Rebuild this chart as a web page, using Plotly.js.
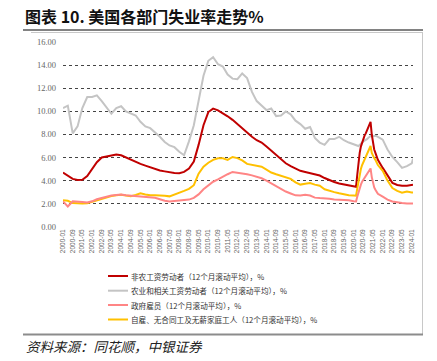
<!DOCTYPE html>
<html>
<head>
<meta charset="utf-8">
<script src="https://cdn.plot.ly/plotly-3.0.1.min.js"></script>
<style>html,body{margin:0;padding:0;background:#fff;}#chart{width:437px;height:361px;}</style>
</head>
<body>
<div id="chart"></div>
<script>
// ---- data ----
const dates = [
"2000-01","2000-05","2000-09","2001-01","2001-05","2001-09","2002-01","2002-05","2002-09","2003-01",
"2003-05","2003-09","2004-01","2004-05","2004-09","2005-01","2005-05","2005-09","2006-01","2006-05",
"2006-09","2007-01","2007-05","2007-09","2008-01","2008-05","2008-09","2009-01","2009-05","2009-09",
"2010-01","2010-05","2010-09","2011-01","2011-05","2011-09","2012-01","2012-05","2012-09","2013-01",
"2013-05","2013-09","2014-01","2014-05","2014-09","2015-01","2015-05","2015-09","2016-01","2016-05",
"2016-09","2017-01","2017-05","2017-09","2018-01","2018-05","2018-09","2019-01","2019-05","2019-09",
"2020-01",
"2020-02","2020-03","2020-04","2020-05","2020-06","2020-07","2020-08","2020-09","2020-10","2020-11",
"2020-12","2021-01","2021-02","2021-03","2021-04","2021-05","2021-06","2021-07","2021-08","2021-09",
"2022-01","2022-05","2022-09","2023-01","2023-05","2023-09","2024-01","2024-02"
];

const nonfarm = [
4.70,4.45,4.15,4.05,4.07,4.4,5.0,5.6,6.0,6.1,
6.15,6.27,6.2,6.0,5.8,5.6,5.45,5.3,5.15,5.0,
4.88,4.8,4.72,4.65,4.64,4.75,5.05,5.65,7.1,8.8,
9.95,10.25,10.1,9.85,9.58,9.27,8.9,8.5,8.15,7.8,
7.5,7.3,6.95,6.6,6.2,5.85,5.5,5.25,5.02,4.85,
4.75,4.63,4.55,4.44,4.22,4.03,3.88,3.75,3.65,3.56,
3.5,
3.48,3.46,4.5,5.6,6.4,6.95,7.3,7.6,7.9,8.1,
8.35,8.6,8.85,9.1,8.0,7.2,6.7,6.4,6.1,5.8,
5.1,4.4,3.8,3.62,3.55,3.55,3.6,3.63
];

const agri = [
10.3,10.5,8.1,8.7,10.3,11.25,11.25,11.4,10.9,10.3,
9.8,10.3,10.45,10.0,9.85,9.65,9.1,8.7,8.55,8.2,
7.8,7.35,7.05,6.9,6.5,6.2,7.4,8.8,11.0,13.1,
14.4,14.72,14.1,13.9,13.2,12.85,12.8,13.3,12.9,11.7,
10.9,10.55,10.12,10.27,9.6,9.65,10.0,9.75,9.2,8.9,
8.5,8.65,7.7,7.3,7.1,7.6,7.6,7.8,7.5,7.3,
7.15,
7.1,7.05,7.0,7.0,7.1,7.24,7.3,7.4,7.45,7.52,
7.6,7.7,7.8,7.87,7.85,7.87,7.9,7.88,7.85,7.8,
7.55,6.7,6.05,5.6,5.1,5.25,5.5,5.9
];

const government = [
2.2,1.75,2.2,2.2,2.15,2.1,2.2,2.38,2.5,2.62,
2.7,2.75,2.8,2.72,2.68,2.65,2.62,2.57,2.52,2.5,
2.38,2.25,2.19,2.22,2.28,2.3,2.35,2.5,2.8,3.25,
3.55,3.9,4.1,4.35,4.55,4.75,4.7,4.64,4.55,4.45,
4.35,4.2,4.0,3.75,3.49,3.25,3.05,2.88,2.72,2.7,
2.77,2.7,2.52,2.48,2.48,2.42,2.35,2.33,2.33,2.3,
2.2,
2.19,2.19,2.6,3.0,3.35,3.65,3.9,4.07,4.25,4.4,
4.55,4.7,4.85,5.05,4.3,3.7,3.4,3.2,3.0,2.85,
2.6,2.35,2.19,2.1,2.05,2.02,2.0,2.0
];

const selfEmployed = [
2.3,2.25,2.05,2.02,2.0,2.03,2.15,2.33,2.45,2.55,
2.65,2.72,2.77,2.7,2.65,2.75,2.9,2.8,2.72,2.72,
2.72,2.68,2.63,2.78,2.9,3.1,3.28,3.6,4.6,5.2,
5.55,5.8,5.94,5.94,5.8,6.05,5.95,5.75,5.45,5.35,
5.3,5.2,4.95,4.7,4.55,4.4,4.3,4.15,3.85,3.65,
3.72,3.78,3.65,3.55,3.25,3.1,3.0,2.9,2.8,2.73,
2.7,
2.69,2.68,3.3,4.0,4.6,5.0,5.35,5.6,5.85,6.08,
6.3,6.55,6.75,7.0,6.4,6.1,5.95,5.8,5.6,5.35,
4.85,4.0,3.35,3.1,2.95,3.05,2.97,2.97
];

const tickLabels = [
"2000-01","2000-09","2001-05","2002-01","2002-09","2003-05","2004-01","2004-09","2005-05","2006-01",
"2006-09","2007-05","2008-01","2008-09","2009-05","2010-01","2010-09","2011-05","2012-01","2012-09",
"2013-05","2014-01","2014-09","2015-05","2016-01","2016-09","2017-05","2018-01","2018-09","2019-05",
"2020-01","2020-09","2021-05","2022-01","2022-09","2023-05","2024-01"
];
const yTicks = [0,2,4,6,8,10,12,14,16];
const yTickText = ["0.00","2.00","4.00","6.00","8.00","10.00","12.00","14.00","16.00"];

const seriesNames = [
"非农工资劳动者（12个月滚动平均），%",
"农业和相关工资劳动者（12个月滚动平均），%",
"政府雇员（12个月滚动平均），%",
"自雇、无合同工及无薪家庭工人（12个月滚动平均），%"
];
const seriesColors = ["#C00000","#C4C4C4","#FF8585","#FFC000"];
const seriesValues = [nonfarm, agri, government, selfEmployed];

// ---- layout helpers (pixel -> paper) ----
const W=437,H=361,L=63,R=413,T=42,B=227;
const px = x => (x-L)/(R-L);
const py = y => (B-y)/(B-T);

const drawOrder = [1,0,3,2];
const traces = drawOrder.map(i => ({
  x: dates, y: seriesValues[i], type:"scatter", mode:"lines",
  name: seriesNames[i], showlegend:false,
  line:{color:seriesColors[i], width:2}
}));

const shapes = [
  {type:"line",xref:"paper",yref:"paper",x0:px(23),x1:px(423),y0:py(30),y1:py(30),line:{color:"#595959",width:1.5}},
  {type:"line",xref:"paper",yref:"paper",x0:px(31),x1:px(423),y0:py(32.5),y1:py(32.5),line:{color:"#C8C8C8",width:1}},
  {type:"line",xref:"paper",yref:"paper",x0:px(422.5),x1:px(422.5),y0:py(32.5),y1:py(334),line:{color:"#C8C8C8",width:1}},
  {type:"line",xref:"paper",yref:"paper",x0:px(23),x1:px(423),y0:py(334.5),y1:py(334.5),line:{color:"#8C8C8C",width:2}}
];
const legendY = [276,290.7,305,319.5];
const annotations = [
  {xref:"paper",yref:"paper",x:px(23),y:py(16),xanchor:"left",yanchor:"middle",showarrow:false,
   text:"<b>图表 10. 美国各部门失业率走势%</b>",font:{family:"Noto Sans CJK SC",size:16,color:"#111"}},
  {xref:"paper",yref:"paper",x:px(24),y:py(346),xanchor:"left",yanchor:"middle",showarrow:false,
   text:"<i>资料来源：同花顺，中银证券</i>",font:{family:"Noto Sans CJK SC",size:13.5,color:"#222"}}
];
for (let i=0;i<4;i++){
  shapes.push({type:"line",xref:"paper",yref:"paper",x0:px(108),x1:px(128),y0:py(legendY[i]),y1:py(legendY[i]),
    line:{color:seriesColors[i],width:2}});
  annotations.push({xref:"paper",yref:"paper",x:px(129),y:py(legendY[i]),xanchor:"left",yanchor:"middle",showarrow:false,
    text:seriesNames[i],font:{family:"Noto Sans CJK SC",size:7.6,color:"#333"}});
}

const layout = {
  width:W,height:H,
  margin:{l:L,r:W-R,t:T,b:H-B,pad:0},
  paper_bgcolor:"#fff",plot_bgcolor:"#fff",
  showlegend:false,
  xaxis:{type:"date",range:["2000-01-01","2024-02-01"],showgrid:false,zeroline:false,showline:false,
    tickmode:"array",tickvals:tickLabels,ticktext:tickLabels,tickangle:-90,ticks:"",
    tickfont:{family:"Liberation Sans",size:6.5,color:"#666"}},
  yaxis:{range:[-0.03,16.03],tickmode:"array",tickvals:yTicks,ticktext:yTickText,
    showgrid:true,gridcolor:"#444",griddash:"dot",gridwidth:1,zeroline:false,showline:false,ticks:"",
    ticklabelstandoff:6,tickfont:{family:"Liberation Serif",size:8.5,color:"#666"}},
  shapes:shapes, annotations:annotations
};
Plotly.newPlot("chart",traces,layout,{staticPlot:true,displayModeBar:false});
</script>
</body>
</html>
